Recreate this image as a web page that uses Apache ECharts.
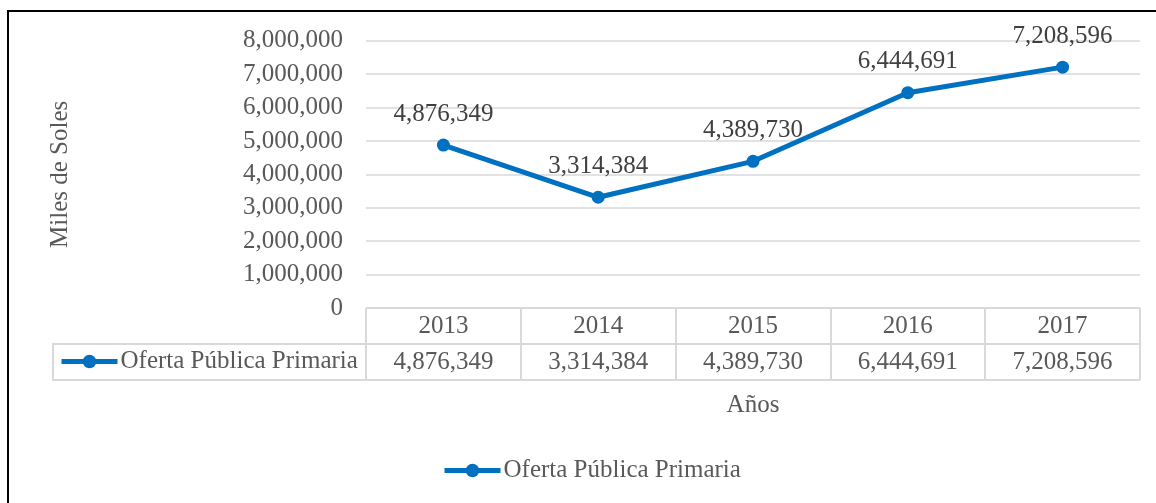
<!DOCTYPE html>
<html>
<head>
<meta charset="utf-8">
<script src="https://cdn.jsdelivr.net/npm/echarts@6/dist/echarts.min.js"></script>
<style>
  html, body { margin: 0; padding: 0; background: #fff; }
  #chart { width: 1156px; height: 503px; }
</style>
</head>
<body>
<div id="chart"></div>
<script>
// datos del gráfico
const years = ['2013', '2014', '2015', '2016', '2017']
const oferta = [4876349, 3314384, 4389730, 6444691, 7208596]
const seriesName = 'Oferta Pública Primaria'
const tableRows = ['header', 'values']

const FONT = 'Liberation Serif'
const FS = 25
const GRAY = '#595959'
const LINE = '#0070C0'
const BORDER = '#d9d9d9'

function fmt(v){
    return v.toLocaleString('en-US')
}

// celdas de la tabla de datos: fila de años y fila de valores
let headerCells = years.map((y, i) => ({ value: [i, 0], label: { formatter: y } }))
let valueCells = oferta.map((v, i) => ({ value: [i, 1], label: { formatter: fmt(v) } }))

let legendBase = {
    data: [seriesName],
    itemWidth: 56, itemHeight: 17,
    itemStyle: { color: LINE },
    lineStyle: { color: LINE, width: 5 },
    textStyle: { fontFamily: FONT, fontSize: FS, color: GRAY, padding: [0, 0, 0, -2] },
    padding: 0
}

let option = {
    backgroundColor: '#fff',
    animation: false,
    textStyle: { fontFamily: FONT },
    grid: [
        { left: 366, top: 40.7, width: 774, height: 267.3, containLabel: false },
        { left: 366, top: 308, width: 774, height: 72, containLabel: false }
    ],
    legend: [
        Object.assign({}, legendBase, { left: 59, top: 349 }),
        Object.assign({}, legendBase, { left: 442, top: 458 })
    ],
    xAxis: [
        {
            gridIndex: 0, type: 'category', data: years, boundaryGap: true,
            axisLine: { show: false }, axisTick: { show: false }, axisLabel: { show: false }
        },
        {
            gridIndex: 1, type: 'category', data: years, boundaryGap: true,
            axisLine: { show: false }, axisTick: { show: false }, axisLabel: { show: false },
            splitLine: { show: true, lineStyle: { color: BORDER, width: 2 } },
            name: 'Años', nameLocation: 'middle', nameGap: 13,
            nameTextStyle: { fontFamily: FONT, fontSize: FS, color: GRAY, verticalAlign: 'top' }
        }
    ],
    yAxis: [
        {
            gridIndex: 0, type: 'value', min: 0, max: 8000000, interval: 1000000,
            axisLine: { show: false }, axisTick: { show: false },
            axisLabel: { fontFamily: FONT, fontSize: FS, color: GRAY, margin: 23, formatter: v => fmt(v) },
            splitLine: { lineStyle: { color: BORDER, width: 1.5 } },
            name: 'Miles de Soles', nameLocation: 'middle', nameRotate: 90, nameGap: 293,
            nameTextStyle: { fontFamily: FONT, fontSize: FS, color: GRAY }
        },
        {
            gridIndex: 1, type: 'category', data: tableRows, inverse: true,
            axisLine: { show: false }, axisTick: { show: false }, axisLabel: { show: false },
            splitLine: { show: true, lineStyle: { color: BORDER, width: 2 } }
        }
    ],
    series: [
        {
            name: seriesName, type: 'line', xAxisIndex: 0, yAxisIndex: 0,
            data: oferta,
            symbol: 'circle', symbolSize: 13,
            lineStyle: { color: LINE, width: 5 },
            itemStyle: { color: LINE },
            label: {
                show: true, position: 'top', distance: 12,
                fontFamily: FONT, fontSize: FS, color: '#404040',
                formatter: p => fmt(p.value)
            }
        },
        {
            type: 'scatter', xAxisIndex: 1, yAxisIndex: 1,
            symbolSize: 0, silent: true,
            itemStyle: { opacity: 1 },
            data: headerCells.concat(valueCells),
            label: { show: true, position: 'inside', fontFamily: FONT, fontSize: FS, color: GRAY }
        }
    ],
    graphic: [
        // borde exterior del gráfico
        { type: 'rect', shape: { x: 8, y: 11, width: 1170, height: 520 },
          style: { fill: 'none', stroke: '#000', lineWidth: 2 }, z: 100 },
        // celda de la leyenda en la tabla
        { type: 'rect', shape: { x: 53, y: 344, width: 313, height: 36 },
          style: { fill: 'none', stroke: BORDER, lineWidth: 2 }, z: 1 }
    ]
}

let chartDom = echarts.init(document.querySelector('#chart'))
chartDom.setOption(option)
</script>
</body>
</html>
